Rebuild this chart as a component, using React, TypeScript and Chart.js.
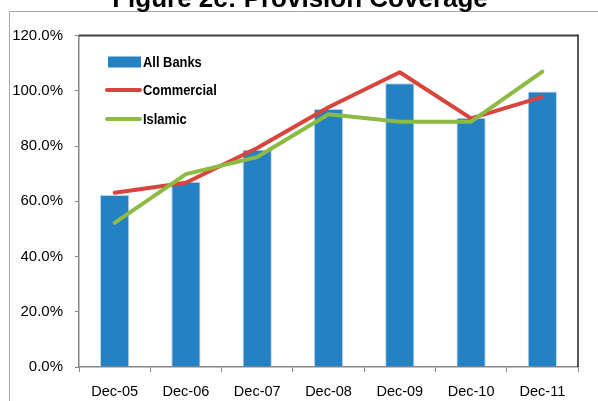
import React, { useEffect, useRef } from "react";
import { Chart, registerables } from "chart.js";

Chart.register(...registerables);

const categories = ["Dec-05", "Dec-06", "Dec-07", "Dec-08", "Dec-09", "Dec-10", "Dec-11"];
const allBanks = [62.3, 67.1, 78.6, 93.4, 102.7, 90.2, 99.7];
const commercial = [63.1, 66.7, 79.3, 94.0, 106.7, 90.0, 97.8];
const islamic = [52.2, 69.8, 76.0, 91.5, 88.8, 88.8, 106.9];
const yTicks = [0, 20, 40, 60, 80, 100, 120];
const titleText = "Figure 2c: Provision Coverage";
const legendLabels = ["All Banks", "Commercial", "Islamic"];

const BLUE = "#2481C3";
const RED = "#D9443C";
const GREEN = "#8CBB44";

const framePlugin = {
  id: "framePlugin",
  beforeDraw(chart: any) {
    const ctx = chart.ctx;
    ctx.save();
    ctx.fillStyle = "#ffffff";
    ctx.fillRect(0, 0, chart.width, chart.height);
    // outer frame
    ctx.strokeStyle = "#a6a6a6";
    ctx.lineWidth = 1;
    ctx.beginPath();
    ctx.moveTo(9.5, chart.height);
    ctx.lineTo(9.5, 11.5);
    ctx.lineTo(chart.width, 11.5);
    ctx.stroke();
    // title (partially cut at top)
    ctx.fillStyle = "#000000";
    ctx.font = "bold 26px 'Liberation Sans', Arial, sans-serif";
    ctx.textAlign = "center";
    ctx.textBaseline = "alphabetic";
    ctx.fillText(titleText, 300, 6.5);
    ctx.restore();
  },
  afterDraw(chart: any) {
    const ctx = chart.ctx;
    const a = chart.chartArea;
    ctx.save();
    // plot border top & right
    ctx.strokeStyle = "#404040";
    ctx.lineWidth = 2;
    ctx.beginPath();
    ctx.moveTo(a.left, a.top);
    ctx.lineTo(a.right, a.top);
    ctx.stroke();
    ctx.lineWidth = 1.5;
    ctx.strokeStyle = "#202020";
    ctx.beginPath();
    ctx.moveTo(a.right, a.top - 1);
    ctx.lineTo(a.right, a.bottom);
    ctx.stroke();

    // legend
    const lx = a.left + 26;
    const tx = a.left + 64;
    const rows = [a.top + 26.5, a.top + 54.5, a.top + 83.5];
    ctx.fillStyle = BLUE;
    ctx.fillRect(a.left + 29, rows[0] - 5.5, 33, 11);
    ctx.lineCap = "round";
    ctx.lineWidth = 4;
    ctx.strokeStyle = RED;
    ctx.beginPath();
    ctx.moveTo(lx + 2, rows[1]);
    ctx.lineTo(a.left + 61, rows[1]);
    ctx.stroke();
    ctx.strokeStyle = GREEN;
    ctx.beginPath();
    ctx.moveTo(lx + 2, rows[2]);
    ctx.lineTo(a.left + 61, rows[2]);
    ctx.stroke();
    ctx.fillStyle = "#000000";
    ctx.font = "bold 15px 'Liberation Sans', Arial, sans-serif";
    ctx.textAlign = "left";
    ctx.textBaseline = "middle";
    const sx = 0.86;
    legendLabels.forEach((t, i) => {
      ctx.save();
      ctx.translate(tx, rows[i] + 1);
      ctx.scale(sx, 1);
      ctx.fillText(t, 0, 0);
      ctx.restore();
    });
    ctx.restore();
  },
};

export default function App() {
  const ref = useRef<HTMLCanvasElement | null>(null);
  useEffect(() => {
    if (!ref.current) return;
    const chart = new Chart(ref.current, {
      type: "bar",
      data: {
        labels: categories,
        datasets: [
          {
            type: "line",
            label: legendLabels[2],
            data: islamic,
            borderColor: GREEN,
            backgroundColor: GREEN,
            borderWidth: 4,
            pointRadius: 0,
            borderCapStyle: "round",
            borderJoinStyle: "round",
            tension: 0,
            order: 1,
          } as any,
          {
            type: "line",
            label: legendLabels[1],
            data: commercial,
            borderColor: RED,
            backgroundColor: RED,
            borderWidth: 4,
            pointRadius: 0,
            borderCapStyle: "round",
            borderJoinStyle: "round",
            tension: 0,
            order: 2,
          } as any,
          {
            type: "bar",
            label: legendLabels[0],
            data: allBanks,
            backgroundColor: BLUE,
            borderColor: "#b5d3ee",
            borderWidth: { left: 1, right: 1, top: 1, bottom: 0 },
            barPercentage: 0.41,
            categoryPercentage: 1,
            order: 3,
          } as any,
        ],
      },
      options: {
        animation: false,
        responsive: false,
        maintainAspectRatio: false,
        layout: { padding: { top: 35.5, right: 20, left: 0, bottom: 0 } },
        plugins: {
          legend: { display: false },
          title: { display: false },
          tooltip: { enabled: false },
        },
        scales: {
          x: {
            offset: true,
            grid: {
              offset: true,
              drawOnChartArea: false,
              drawTicks: true,
              tickLength: 5,
              color: "#868686",
            },
            border: { color: "#868686", width: 1.5 },
            ticks: {
              color: "#000000",
              padding: 11,
              font: { family: "'Liberation Sans', Arial, sans-serif", size: 14.5 },
              maxRotation: 0,
            },
            afterFit(scale: any) {
              scale.height = 34;
            },
          },
          y: {
            min: 0,
            max: 120,
            afterBuildTicks(scale: any) {
              scale.ticks = yTicks.map((v) => ({ value: v }));
            },
            grid: {
              drawOnChartArea: false,
              drawTicks: true,
              tickLength: 4,
              color: "#868686",
            },
            border: { color: "#868686", width: 1.5 },
            ticks: {
              color: "#000000",
              padding: 12,
              font: { family: "'Liberation Sans', Arial, sans-serif", size: 15 },
              callback: (v: any) => Number(v).toFixed(1) + "%",
            },
            afterFit(scale: any) {
              scale.width = 79;
            },
          },
        },
      } as any,
      plugins: [framePlugin],
    });
    return () => chart.destroy();
  }, []);
  return (
    <div style={{ position: "fixed", left: 0, top: 0, width: 598, height: 401 }}>
      <canvas ref={ref} width={598} height={401} style={{ width: 598, height: 401, display: "block" }} />
    </div>
  );
}
